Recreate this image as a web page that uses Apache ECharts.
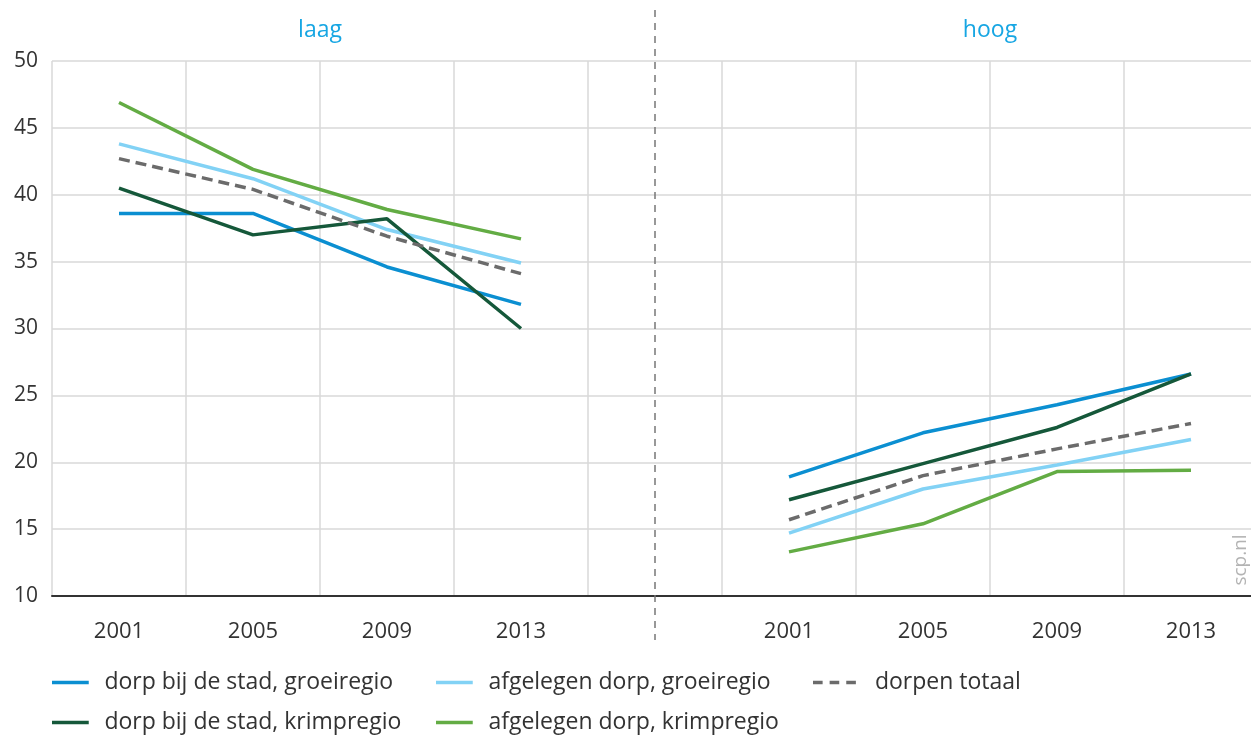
<!DOCTYPE html>
<html>
<head>
<meta charset="utf-8">
<title>dorpen laag / hoog</title>
<script src="https://cdn.jsdelivr.net/npm/echarts@6/dist/echarts.min.js"></script>
<style>
  html, body { margin: 0; padding: 0; background: #fff; }
  #main { width: 1251px; height: 737px; }
</style>
</head>
<body>
<div id="main"></div>
<script>
// panels and x categories
var panels = ['laag', 'hoog'];
var years = ['2001', '2005', '2009', '2013'];

// y axis ticks
var yMin = 10;
var yMax = 50;
var yStep = 5;

// series names
var seriesNames = [
  'dorp bij de stad, groeiregio',
  'afgelegen dorp, groeiregio',
  'dorpen totaal',
  'dorp bij de stad, krimpregio',
  'afgelegen dorp, krimpregio'
];

// values per panel (laag / hoog)
var stadGroeiLaag = [38.6, 38.6, 34.6, 31.8];
var stadGroeiHoog = [18.9, 22.2, 24.3, 26.6];
var afgelegenGroeiLaag = [43.8, 41.2, 37.4, 34.9];
var afgelegenGroeiHoog = [14.7, 18.0, 19.8, 21.7];
var totaalLaag = [42.7, 40.4, 36.9, 34.1];
var totaalHoog = [15.7, 19.0, 21.0, 22.9];
var stadKrimpLaag = [40.5, 37.0, 38.2, 30.0];
var stadKrimpHoog = [17.2, 19.9, 22.6, 26.6];
var afgelegenKrimpLaag = [46.9, 41.9, 38.9, 36.7];
var afgelegenKrimpHoog = [13.3, 15.4, 19.3, 19.4];

var colors = ['#0b8fd1', '#82d2f5', '#6b6b6b', '#15583a', '#63ac44'];
var FONT = '"Open Sans", Lato, sans-serif';

// one category axis: laag years, empty gap slot, hoog years
var categories = years.map(function (y) { return panels[0] + '|' + y; })
  .concat(['gap|'])
  .concat(years.map(function (y) { return panels[1] + '|' + y; }));
var gapIndex = years.length;

function joinPanels(a, b) {
  return a.concat(['-']).concat(b);
}

var seriesData = [
  joinPanels(stadGroeiLaag, stadGroeiHoog),
  joinPanels(afgelegenGroeiLaag, afgelegenGroeiHoog),
  joinPanels(totaalLaag, totaalHoog),
  joinPanels(stadKrimpLaag, stadKrimpHoog),
  joinPanels(afgelegenKrimpLaag, afgelegenKrimpHoog)
];

// legend slots: [left, top]
var legendPos = [[52, 671], [436, 671], [813, 671], [52, 711], [436, 711]];
var solidIcon = 'path://M0,0h42v4h-42z';
var dashIcon = 'path://M0,0h11v4h-11z M19,0h11v4h-11z M38,0h11v4h-11z';

var chart = echarts.init(document.getElementById('main'));

var option = {
  animation: false,
  backgroundColor: '#fff',
  grid: { left: 52, top: 61, bottom: 141, width: 1206, outerBoundsMode: 'none' },
  legend: seriesNames.map(function (name, i) {
    var dashed = i === 2;
    return {
      data: [name],
      left: legendPos[i][0],
      top: legendPos[i][1],
      padding: 0,
      icon: dashed ? dashIcon : solidIcon,
      itemWidth: dashed ? 49 : 42,
      itemHeight: 3.5,
      textStyle: { fontFamily: FONT, fontSize: 23, color: '#333', padding: [0, 0, 0, dashed ? 11 : 8] }
    };
  }),
  xAxis: {
    type: 'category',
    data: categories,
    boundaryGap: true,
    axisLine: { lineStyle: { color: '#333', width: 2 } },
    axisTick: {
      alignWithLabel: true,
      length: 10,
      interval: function (i) { return i !== gapIndex; },
      lineStyle: { color: '#333', width: 1.5 }
    },
    axisLabel: {
      interval: 0,
      margin: 25,
      fontFamily: FONT,
      fontSize: 22,
      color: '#333',
      formatter: function (v) { return v.split('|')[1]; }
    },
    splitLine: { show: true, interval: 0, lineStyle: { color: '#d8d8d8', width: 1.5 } }
  },
  yAxis: {
    type: 'value',
    min: yMin,
    max: yMax,
    interval: yStep,
    axisLine: { show: false },
    axisTick: { show: false },
    axisLabel: { margin: 14, fontFamily: FONT, fontSize: 21, color: '#333' },
    splitLine: { lineStyle: { color: '#d8d8d8', width: 1.5 } }
  },
  series: seriesNames.map(function (name, i) {
    return {
      name: name,
      type: 'line',
      data: seriesData[i],
      symbol: 'none',
      connectNulls: false,
      color: colors[i],
      lineStyle: { color: colors[i], width: 3.5, type: i === 2 ? [11, 6] : 'solid' },
      z: i === 2 ? 3 : 2
    };
  })
};

chart.setOption(option);

// panel titles, divider, source mark
var dividerX = chart.convertToPixel({ xAxisIndex: 0 }, gapIndex);
var leftMid = (chart.convertToPixel({ xAxisIndex: 0 }, 1) + chart.convertToPixel({ xAxisIndex: 0 }, 2)) / 2;
var rightMid = (chart.convertToPixel({ xAxisIndex: 0 }, gapIndex + 2) + chart.convertToPixel({ xAxisIndex: 0 }, gapIndex + 3)) / 2;

chart.setOption({
  graphic: [
    {
      type: 'line',
      shape: { x1: dividerX, y1: 10, x2: dividerX, y2: 640 },
      style: { stroke: '#777', lineWidth: 1.5, lineDash: [7, 6] },
      z: 10
    },
    {
      type: 'text', x: leftMid, y: 30,
      style: { text: panels[0], fill: '#17a6e3', fontFamily: FONT, fontSize: 23, textAlign: 'center', textVerticalAlign: 'middle' }
    },
    {
      type: 'text', x: rightMid, y: 30,
      style: { text: panels[1], fill: '#17a6e3', fontFamily: FONT, fontSize: 23, textAlign: 'center', textVerticalAlign: 'middle' }
    },
    {
      type: 'text', x: 1241, y: 560, rotation: Math.PI / 2,
      style: { text: 'scp.nl', fill: '#b3b3b3', fontFamily: FONT, fontSize: 19, textAlign: 'center', textVerticalAlign: 'middle' }
    }
  ]
});
</script>
</body>
</html>
